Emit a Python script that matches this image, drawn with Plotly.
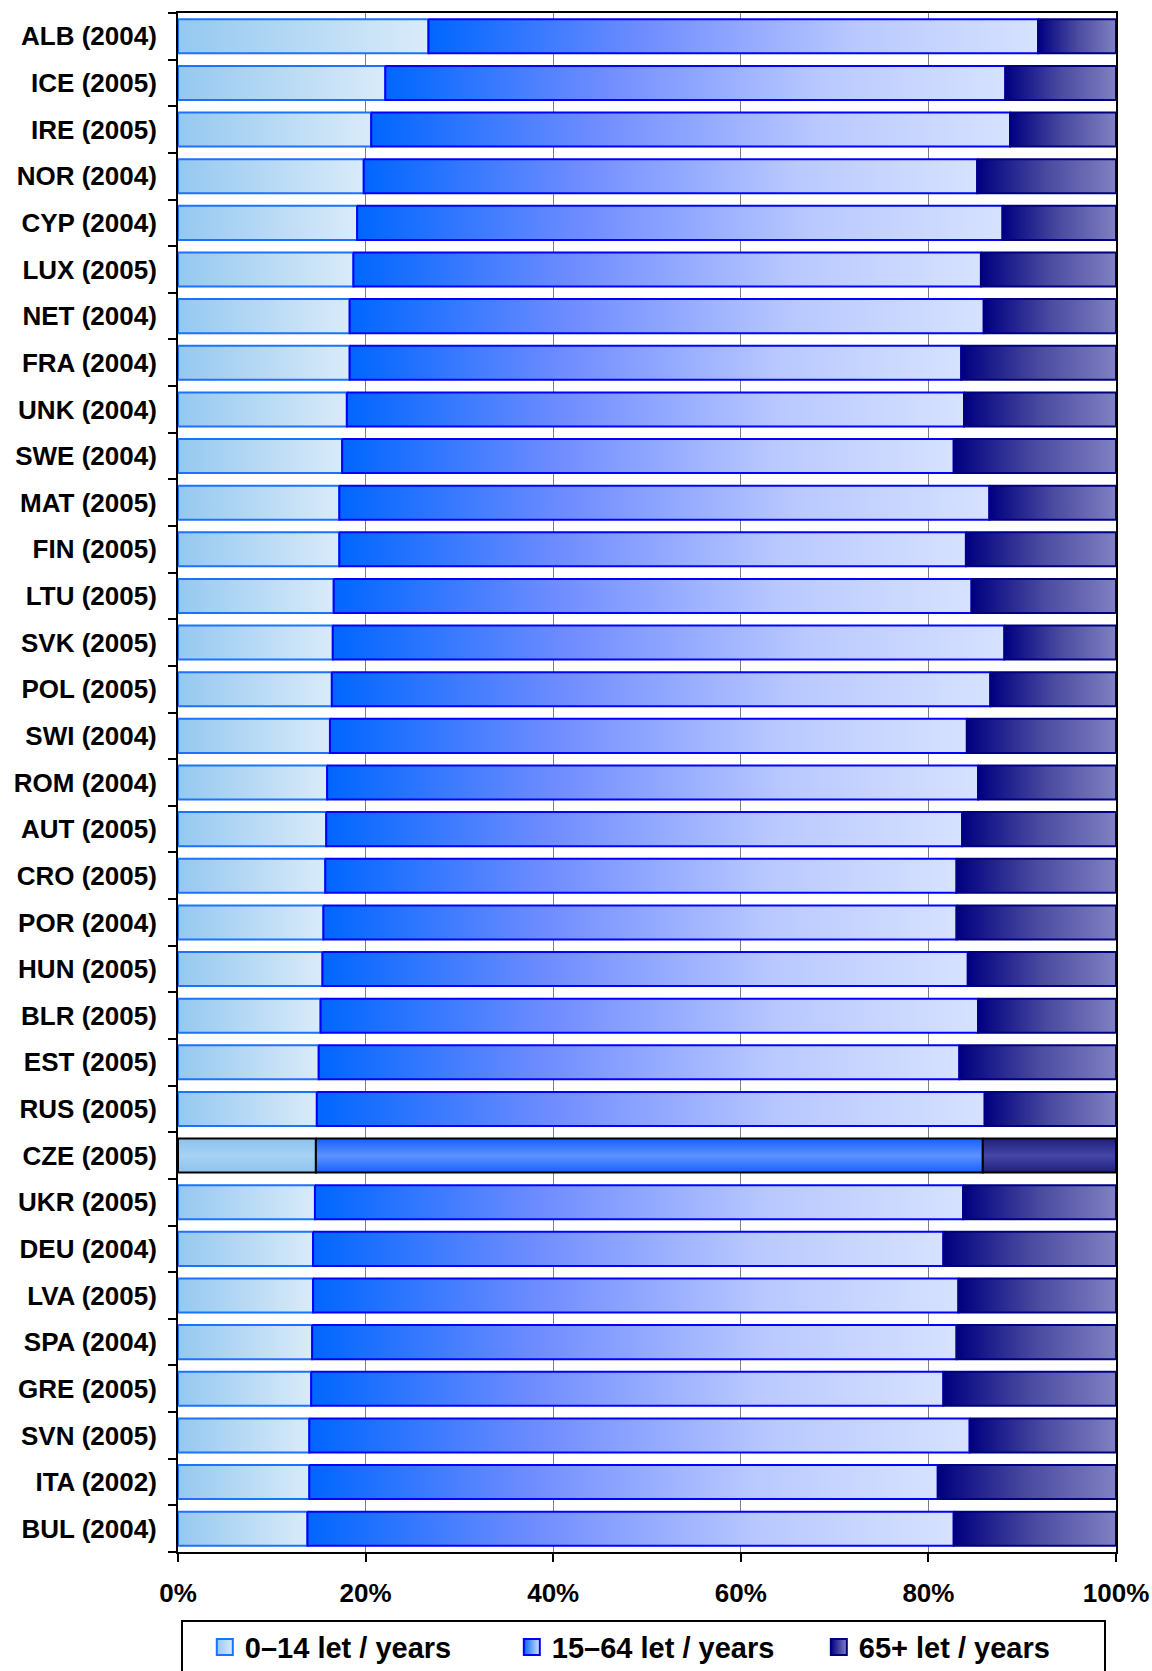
import plotly.graph_objects as go

# population structure by age group, % of total
countries = [
    "ALB (2004)", "ICE (2005)", "IRE (2005)", "NOR (2004)", "CYP (2004)",
    "LUX (2005)", "NET (2004)", "FRA (2004)", "UNK (2004)", "SWE (2004)",
    "MAT (2005)", "FIN (2005)", "LTU (2005)", "SVK (2005)", "POL (2005)",
    "SWI (2004)", "ROM (2004)", "AUT (2005)", "CRO (2005)", "POR (2004)",
    "HUN (2005)", "BLR (2005)", "EST (2005)", "RUS (2005)", "CZE (2005)",
    "UKR (2005)", "DEU (2004)", "LVA (2005)", "SPA (2004)", "GRE (2005)",
    "SVN (2005)", "ITA (2002)", "BUL (2004)",
]
age_0_14 = [26.7, 22.1, 20.6, 19.8, 19.1, 18.7, 18.3, 18.3, 18.0, 17.5,
            17.2, 17.2, 16.6, 16.5, 16.4, 16.2, 15.9, 15.8, 15.7, 15.5,
            15.4, 15.2, 15.0, 14.8, 14.7, 14.6, 14.4, 14.4, 14.3, 14.2,
            14.0, 14.0, 13.8]
age_15_64 = [65.0, 66.1, 68.1, 65.4, 68.8, 66.9, 67.6, 65.2, 65.8, 65.2,
             69.3, 66.8, 68.0, 71.6, 70.2, 67.9, 69.4, 67.8, 67.3, 67.5,
             68.8, 70.1, 68.3, 71.2, 71.1, 69.1, 67.2, 68.8, 68.7, 67.4,
             70.4, 67.0, 68.9]
age_65 = [8.3, 11.8, 11.3, 14.8, 12.1, 14.4, 14.1, 16.5, 16.2, 17.3,
          13.5, 16.0, 15.4, 11.9, 13.4, 15.9, 14.7, 16.4, 17.0, 17.0,
          15.8, 14.7, 16.7, 14.0, 14.2, 16.3, 18.4, 16.8, 17.0, 18.4,
          15.6, 19.0, 17.3]
group_names = ["0–14 let / years", "15–64 let / years", "65+ let / years"]
highlight = "CZE (2005)"
x_ticks = [0, 20, 40, 60, 80, 100]
x_tick_labels = ["0%", "20%", "40%", "60%", "80%", "100%"]

styles = [
    dict(scale=[[0, "#95C8F0"], [1, "#DAEBF9"]], line="#1A72FF",
         hl_scale=[[0, "#8EC3EE"], [0.5, "#A6D2F3"], [1, "#8EC3EE"]]),
    dict(scale=[[0, "#0066FF"], [0.35, "#6F8CFF"], [0.7, "#B9C8FF"], [1, "#D6E2FF"]],
         line="#0000FF",
         hl_scale=[[0, "#1462FF"], [0.5, "#5E92FF"], [1, "#1462FF"]]),
    dict(scale=[[0, "#000080"], [0.5, "#4A4AA0"], [1, "#8080C2"]], line="#000080",
         hl_scale=[[0, "#1E1E7C"], [0.5, "#4646A6"], [1, "#1E1E7C"]]),
]

half = 0.365
fig = go.Figure()

for i, name in enumerate(countries):
    vals = [age_0_14[i], age_15_64[i], age_65[i]]
    left = 0
    for g, v in enumerate(vals):
        right = left + v
        st = styles[g]
        if name == highlight:
            grad = dict(type="vertical", colorscale=st["hl_scale"])
            lc = "black"
        else:
            grad = dict(type="horizontal", colorscale=st["scale"])
            lc = st["line"]
        fig.add_trace(go.Scatter(
            x=[left, right, right, left, left],
            y=[i - half, i - half, i + half, i + half, i - half],
            mode="lines",
            fill="toself",
            fillgradient=grad,
            line=dict(color=lc, width=2),
            showlegend=False,
            hoverinfo="skip",
        ))
        left = right

# legend entries
for g, nm in enumerate(group_names):
    st = styles[g]
    fig.add_trace(go.Scatter(
        x=[None], y=[None], mode="markers", name=nm,
        marker=dict(symbol="square", size=16, color=st["scale"][0][1],
                    gradient=dict(type="horizontal", color=st["scale"][-1][1]),
                    line=dict(color=st["line"], width=2)),
    ))

fig.update_xaxes(
    range=[0, 100], tickvals=x_ticks, ticktext=x_tick_labels,
    showgrid=True, gridcolor="#7F7F7F", gridwidth=1,
    showline=True, linecolor="black", linewidth=2, mirror=True,
    ticks="outside", ticklen=8, tickwidth=2, tickcolor="black",
    ticklabelstandoff=9, zeroline=False, automargin=False,
)
fig.update_yaxes(
    range=[len(countries) - 0.5, -0.5],
    tickvals=list(range(len(countries))), ticktext=countries,
    showgrid=False, zeroline=False, automargin=False,
    showline=True, linecolor="black", linewidth=2, mirror=True,
    ticks="", ticklabelstandoff=14,
    minor=dict(tickmode="array", tickvals=[k - 0.5 for k in range(len(countries) + 1)],
               ticks="outside", ticklen=8, tickwidth=2, tickcolor="black", showgrid=False),
)

fig.update_layout(
    width=1152, height=1671,
    margin=dict(l=178, r=36, t=13, b=119, autoexpand=False),
    plot_bgcolor="white", paper_bgcolor="white",
    font=dict(family="Liberation Sans, Arial, sans-serif", size=26, color="black", weight="bold"),
    legend=dict(
        orientation="h", x=0.003, y=-0.044, xanchor="left", yanchor="top",
        bordercolor="black", borderwidth=2, font=dict(size=29),
        entrywidth=240, entrywidthmode="pixels", indentation=22,
    ),
)

# the page body has a default 8px margin; drop it so the figure sits at the corner
fig.write_html("out.html", post_script="document.body.style.margin = '0';",
               config={"displayModeBar": False})
